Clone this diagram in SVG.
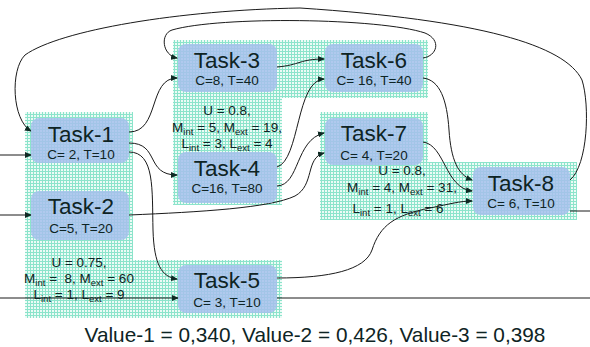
<svg xmlns="http://www.w3.org/2000/svg" width="590" height="347" viewBox="0 0 590 347">
<defs>
<pattern id="grid" width="3" height="3" patternUnits="userSpaceOnUse">
<rect width="3" height="3" fill="#ecfbf6"/>
<rect width="3" height="1" fill="#8ce4cb"/>
<rect width="1" height="3" fill="#8ce4cb"/>
</pattern>
<marker id="arr" markerWidth="7" markerHeight="6" refX="6" refY="3" orient="auto" markerUnits="userSpaceOnUse">
<path d="M0,0 L7,3 L0,6 Z" fill="#0f2a24"/>
</marker>
<style>
.cl{fill:url(#grid);stroke:none}
.box{fill:#a6c0ec;fill-opacity:0.85;stroke:none}
.t{font-family:"Liberation Sans",Arial,sans-serif;fill:#0e2424;text-anchor:middle}
.title{font-size:22.5px}
.sub{font-size:13.5px}
.ann{font-size:13.5px}
.s{font-size:9.5px}
.c{fill:none;stroke:#1a1a1a;stroke-width:1}
.a{marker-end:url(#arr)}
</style>
</defs>

<g id="clusters">
<path class="cl" d="M25,112 H133 V260 H282 V318 H25 Z"/>
<path class="cl" d="M173,40 H428 V98 H282 V205 H173 Z"/>
<path class="cl" d="M320,112 H428 V162 H577 V220 H320 Z"/>
</g>

<g id="connectors">
<path class="c a" d="M0,155 L31,155"/>
<path class="c a" d="M0,215 L31,215"/>
<path class="c a" d="M0,298 L178,298"/>
<path class="c" d="M277,298 L590,298"/>
<path class="c" d="M570,211 L590,211"/>
<path class="c a" d="M129,132 C160,132 148,78 177,78"/>
<path class="c a" d="M129,143 C160,143 145,175 177,175"/>
<path class="c a" d="M129,152 C155,152 152,190 153,230 C154,265 162,277 177,279"/>
<path class="c a" d="M129,215 C200,212 270,208 295,196 C315,185 305,158 324,153"/>
<path class="c a" d="M277,186 C300,185 295,140 324,133"/>
<path class="c a" d="M277,167 C300,160 296,80 324,79"/>
<path class="c a" d="M277,67 C300,65 300,59 324,59"/>
<path class="c a" d="M423,58 C437,56 442,40 425,33 C380,18 220,16 172,30 C160,34 162,55 177,58"/>
<path class="c a" d="M570,180 C588,165 590,105 582,80 C565,45 480,20 300,8 C180,10 60,30 25,55 C10,70 12,120 31,131"/>
<path class="c a" d="M423,78 C440,80 447,100 449,130 C451,160 458,175 472,180"/>
<path class="c a" d="M423,142 C445,145 445,188 472,191"/>
<path class="c a" d="M277,278 C330,278 365,270 372,250 C380,225 395,215 430,208 C450,204 460,201 472,201"/>
</g>

<g id="task1">
<rect class="box" x="31" y="118" width="98" height="45" rx="8"/>
<text class="t title" x="81" y="142">Task-1</text>
<text class="t sub" x="81" y="159">C= 2, T=10</text>
</g>
<g id="task2">
<rect class="box" x="31" y="191" width="98" height="49" rx="8"/>
<text class="t title" x="81" y="214">Task-2</text>
<text class="t sub" x="81" y="233">C=5, T=20</text>
</g>
<g id="task3">
<rect class="box" x="178" y="44" width="99" height="48" rx="8"/>
<text class="t title" x="227" y="68">Task-3</text>
<text class="t sub" x="227" y="85">C=8, T=40</text>
</g>
<g id="task4">
<rect class="box" x="178" y="152" width="99" height="51" rx="8"/>
<text class="t title" x="227" y="176">Task-4</text>
<text class="t sub" x="227" y="193">C=16, T=80</text>
</g>
<g id="task5">
<rect class="box" x="178" y="265" width="99" height="48" rx="8"/>
<text class="t title" x="227" y="288">Task-5</text>
<text class="t sub" x="227" y="307">C= 3, T=10</text>
</g>
<g id="task6">
<rect class="box" x="325" y="44" width="98" height="48" rx="8"/>
<text class="t title" x="374" y="68">Task-6</text>
<text class="t sub" x="374" y="85">C= 16, T=40</text>
</g>
<g id="task7">
<rect class="box" x="325" y="118" width="98" height="47" rx="8"/>
<text class="t title" x="374" y="141">Task-7</text>
<text class="t sub" x="374" y="160">C= 4, T=20</text>
</g>
<g id="task8">
<rect class="box" x="473" y="167" width="97" height="48" rx="8"/>
<text class="t title" x="521" y="191">Task-8</text>
<text class="t sub" x="521" y="208">C= 6, T=10</text>
</g>

<g id="annotations">
<text class="t ann" x="227" y="115">U = 0.8,</text>
<text class="t ann" x="227" y="132">M<tspan class="s" dy="3">int</tspan><tspan dy="-3"> = 5, M</tspan><tspan class="s" dy="3">ext</tspan><tspan dy="-3"> = 19,</tspan></text>
<text class="t ann" x="227" y="148">L<tspan class="s" dy="3">int</tspan><tspan dy="-3"> = 3, L</tspan><tspan class="s" dy="3">ext</tspan><tspan dy="-3"> = 4</tspan></text>

<text class="t ann" x="79" y="267">U = 0.75,</text>
<text class="t ann" x="79" y="283" xml:space="preserve">M<tspan class="s" dy="3">int</tspan><tspan dy="-3"> =  8, M</tspan><tspan class="s" dy="3">ext</tspan><tspan dy="-3"> = 60</tspan></text>
<text class="t ann" x="79" y="299">L<tspan class="s" dy="3">int</tspan><tspan dy="-3"> = 1, L</tspan><tspan class="s" dy="3">ext</tspan><tspan dy="-3"> = 9</tspan></text>

<text class="t ann" x="402" y="175">U = 0.8,</text>
<text class="t ann" x="402" y="192">M<tspan class="s" dy="3">int</tspan><tspan dy="-3"> = 4, M</tspan><tspan class="s" dy="3">ext</tspan><tspan dy="-3"> = 31,</tspan></text>
<text class="t ann" x="398" y="213">L<tspan class="s" dy="3">int</tspan><tspan dy="-3"> = 1, L</tspan><tspan class="s" dy="3">ext</tspan><tspan dy="-3"> = 6</tspan></text>
</g>

<text class="t" x="315" y="342" font-size="20.8" fill="#111">Value-1 = 0,340, Value-2 = 0,426, Value-3 = 0,398</text>
</svg>
